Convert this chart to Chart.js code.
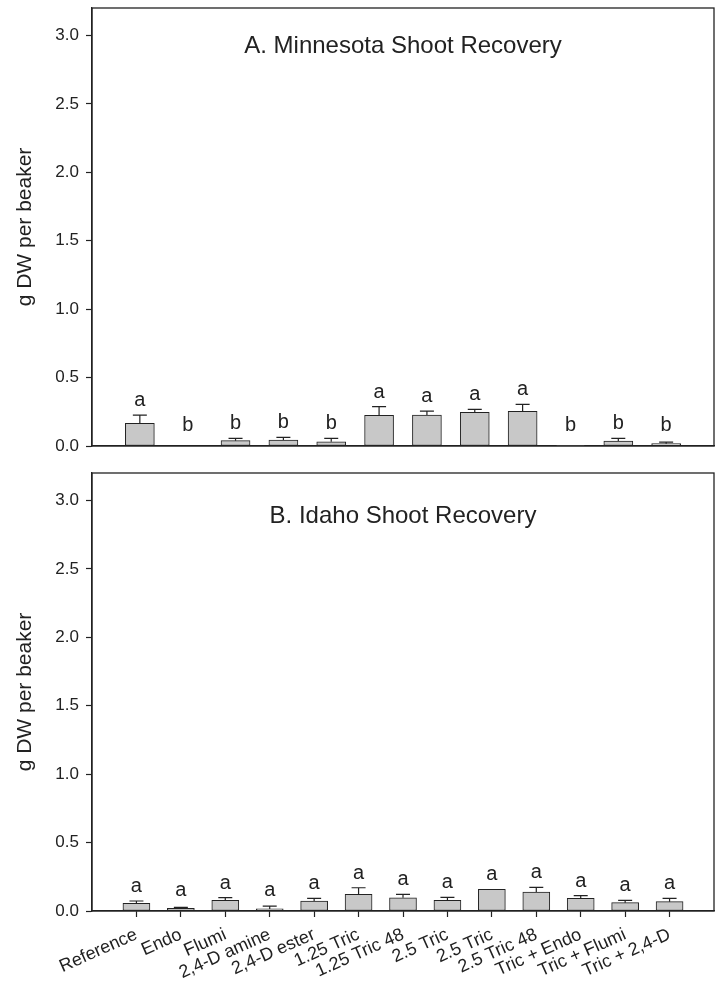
<!DOCTYPE html>
<html><head><meta charset="utf-8">
<script src="https://cdn.jsdelivr.net/npm/chart.js@4.4.1/dist/chart.umd.min.js"></script>
<style>
html,body{margin:0;padding:0;background:#fff;}
#wrap{position:relative;width:718px;height:981px;overflow:hidden;}
.c{position:absolute;left:0;width:718px;}
</style></head><body>
<div id="wrap">
<div class="c" style="top:0;height:462px"><canvas id="chartA"></canvas></div>
<div class="c" style="top:462px;height:519px"><canvas id="chartB"></canvas></div>
</div>
<script>
// ---- data ----
const mnCategories = ["Reference","Endo","Flumi","2,4-D amine","2,4-D ester","1.25 Tric","1.25 Tric 48","2.5 Tric","2.5 Tric 48","Tric + Endo","Tric + Flumi","Tric + 2,4-D"];
const mnMeans   = [0.166, 0, 0.039, 0.044, 0.031, 0.224, 0.226, 0.246, 0.253, 0.004, 0.036, 0.017];
const mnErrors  = [0.060, 0, 0.017, 0.019, 0.025, 0.063, 0.029, 0.022, 0.051, 0, 0.020, 0.012];
const mnLetters = ["a","b","b","b","b","a","a","a","a","b","b","b"];

const idCategories = ["Reference","Endo","Flumi","2,4-D amine","2,4-D ester","1.25 Tric","1.25 Tric 48","2.5 Tric","2.5 Tric","2.5 Tric 48","Tric + Endo","Tric + Flumi","Tric + 2,4-D"];
const idMeans   = [0.056, 0.019, 0.078, 0.015, 0.073, 0.122, 0.097, 0.078, 0.158, 0.139, 0.093, 0.061, 0.068];
const idErrors  = [0.017, 0.007, 0.019, 0.020, 0.019, 0.048, 0.025, 0.022, 0, 0.034, 0.019, 0.017, 0.024];
const idLetters = ["a","a","a","a","a","a","a","a","a","a","a","a","a"];

const yTicks = [0, 0.5, 1.0, 1.5, 2.0, 2.5, 3.0];
const yMax = 3.2;
const yTitle = "g DW per beaker";
const titleA = "A. Minnesota Shoot Recovery";
const titleB = "B. Idaho Shoot Recovery";

// ---- styling ----
const FONT = '"Liberation Sans", Arial, Helvetica, sans-serif';
const INK = '#222';
Chart.defaults.font.family = FONT;
Chart.defaults.color = INK;

const extras = {
  id: 'extras',
  afterDatasetsDraw(chart, args, o) {
    const ctx = chart.ctx, xs = chart.scales.x, ys = chart.scales.y, a = chart.chartArea;
    ctx.save();
    ctx.strokeStyle = INK; ctx.fillStyle = INK; ctx.lineWidth = 1.2;
    const base = ys.getPixelForValue(0);
    o.means.forEach((m, i) => {
      const x = xs.getPixelForValue(i + 1);
      const yTop = ys.getPixelForValue(m);
      let yE = yTop;
      if (o.errors[i] > 0) {
        yE = ys.getPixelForValue(m + o.errors[i]);
        ctx.beginPath();
        ctx.moveTo(x, yTop); ctx.lineTo(x, yE);
        ctx.moveTo(x - 7, yE); ctx.lineTo(x + 7, yE);
        ctx.stroke();
      }
      ctx.font = '20px ' + FONT;
      ctx.textAlign = 'center'; ctx.textBaseline = 'alphabetic';
      ctx.fillText(o.letters[i], x, Math.min(yE - 9, base - 15));
    });
    ctx.lineWidth = 1.3;
    ctx.strokeRect(a.left, a.top, a.right - a.left, a.bottom - a.top);
    ctx.font = o.titleSize + 'px ' + FONT;
    ctx.textAlign = 'center';
    ctx.fillText(o.title, (a.left + a.right) / 2, a.top + o.titleOffset);
    ctx.restore();
  }
};

function yScale() {
  return {
    min: 0, max: yMax,
    afterBuildTicks: s => { s.ticks = yTicks.map(v => ({ value: v })); },
    afterFit: s => { s.width = 92; s.paddingTop = 0; s.paddingBottom = 0; },
    ticks: { callback: v => Number(v).toFixed(1), font: { size: 17 }, color: INK, padding: 7 },
    grid: { drawOnChartArea: false, drawTicks: true, tickLength: 6, tickColor: INK, tickWidth: 1.2 },
    border: { display: true, color: INK, width: 1.3 },
    title: { display: true, text: yTitle, font: { size: 21 }, color: INK, padding: { top: 13, bottom: 0 } }
  };
}

function barDataset(means, thickness) {
  return {
    data: means.map((m, i) => ({ x: i + 1, y: m })),
    backgroundColor: '#c8c8c8', borderColor: INK, borderWidth: 1, barThickness: thickness,
    borderSkipped: false
  };
}

new Chart(document.getElementById('chartA'), {
  type: 'bar',
  data: { datasets: [barDataset(mnMeans, 29)] },
  options: {
    responsive: true, maintainAspectRatio: false, animation: false,
    layout: { padding: { top: 8, right: 4, bottom: 16, left: 0 } },
    plugins: { legend: { display: false }, tooltip: { enabled: false },
      extras: { means: mnMeans, errors: mnErrors, letters: mnLetters, title: titleA, titleSize: 24, titleOffset: 45 } },
    scales: {
      x: { type: 'linear', min: 0, max: mnCategories.length + 1, offset: false,
        ticks: { display: false }, grid: { display: false, offset: false }, border: { display: true, color: INK, width: 1.3 },
        afterFit: s => { s.height = 0; s.paddingLeft = 0; s.paddingRight = 0; } },
      y: yScale()
    }
  },
  plugins: [extras]
});

new Chart(document.getElementById('chartB'), {
  type: 'bar',
  data: { datasets: [barDataset(idMeans, 27)] },
  options: {
    responsive: true, maintainAspectRatio: false, animation: false,
    layout: { padding: { top: 11, right: 4, bottom: 0, left: 0 } },
    plugins: { legend: { display: false }, tooltip: { enabled: false },
      extras: { means: idMeans, errors: idErrors, letters: idLetters, title: titleB, titleSize: 24, titleOffset: 50 } },
    scales: {
      x: { type: 'linear', min: 0, max: idCategories.length + 1, offset: false,
        afterBuildTicks: s => { s.ticks = idCategories.map((c, i) => ({ value: i + 1 })); },
        afterFit: s => { s.height = 70; s.paddingLeft = 0; s.paddingRight = 0; },
        ticks: { callback: (v, i) => idCategories[i], autoSkip: false, minRotation: 24, maxRotation: 24,
          font: { size: 18 }, color: INK, padding: 7 },
        grid: { drawOnChartArea: false, drawTicks: true, offset: false, tickLength: 6, tickColor: INK, tickWidth: 1.2 },
        border: { display: true, color: INK, width: 1.3 } },
      y: yScale()
    }
  },
  plugins: [extras]
});
</script>
</body></html>
